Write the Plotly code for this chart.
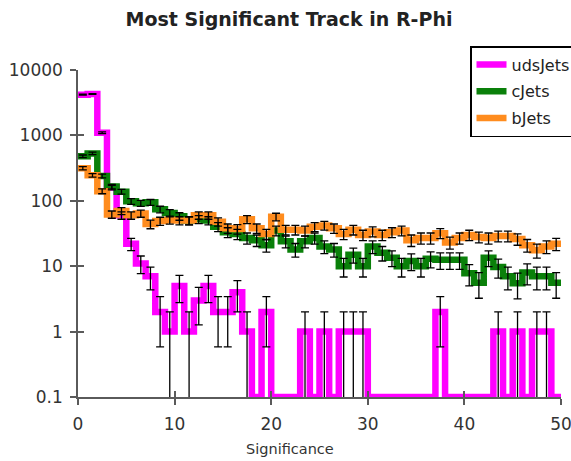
import numpy as np
import plotly.graph_objects as go

# Histogram binning: 50 bins of unit width on [0, 50]
bin_edges = np.arange(0, 51, 1)
bin_centers = bin_edges[:-1] + 0.5

# Entries per bin for each jet flavour
uds_counts = [4200, 4300, 1100, 160, 60, 22, 11, 7, 2, 1,
              5, 1, 3, 5, 2, 2, 4, 1, 0, 2,
              0, 0, 0, 1, 0, 1, 0, 1, 1, 1,
              0, 0, 0, 0, 0, 0, 0, 2, 0, 0,
              0, 0, 0, 1, 0, 1, 0, 1, 1, 0]
c_counts = [480, 530, 240, 165, 138, 98, 92, 95, 74, 65,
            58, 50, 52, 50, 40, 33, 31, 27, 25, 21,
            35, 24, 18, 24, 27, 20, 18, 10, 15, 10,
            20, 16, 13.5, 10, 12, 10, 13, 12.5, 12.5, 12.5,
            7.8, 5.6, 13.5, 9.7, 7, 5.5, 8, 7, 7, 5.6]
b_counts = [315, 245, 140, 62, 70, 60, 64, 44, 49, 51,
            50, 50, 60, 60, 48, 38, 37, 52, 38, 31,
            57, 36, 36, 35, 40, 42, 38, 31, 36, 30,
            34, 30, 33, 35, 25, 27, 27, 32, 23, 27,
            30, 28, 27, 29, 29, 26, 21, 17.5, 20, 22]

series_names = ["udsJets", "cJets", "bJets"]
series_counts = [uds_counts, c_counts, b_counts]
series_colors = ["#FF00FF", "#0A800A", "#FF8C1E"]

y_ticks = [0.1, 1, 10, 100, 1000, 10000]
y_ticktext = ["0.1", "1", "10", "100", "1000", "10000"]
x_ticks = [0, 10, 20, 30, 40, 50]

Y_FLOOR = 0.1  # empty bins sit on the bottom of the log axis
FONT = "DejaVu Sans"
AXIS_COLOR = "#5a5a5a"

fig = go.Figure()

# Step outlines of the histograms
for name, counts, color in zip(series_names, series_counts, series_colors):
    c = np.asarray(counts, dtype=float)
    level = np.where(c > 0, c, Y_FLOOR)
    step_y = np.append(level, level[-1])
    fig.add_trace(go.Scatter(
        x=bin_edges, y=step_y, mode="lines", name=name, legendgroup=name,
        line=dict(shape="hv", color=color, width=6.5),
        hoverinfo="skip",
    ))

# Poisson error bars at the bin centres
for name, counts, color in zip(series_names, series_counts, series_colors):
    c = np.asarray(counts, dtype=float)
    filled = c > 0
    fig.add_trace(go.Scatter(
        x=bin_centers[filled], y=c[filled], mode="markers",
        marker=dict(size=1, color="rgba(0,0,0,0)"),
        error_y=dict(type="data", array=np.sqrt(c[filled]),
                     color="black", thickness=1.3, width=4),
        showlegend=False, hoverinfo="skip",
    ))

# Empty trace that carries the inner tick marks
fig.add_trace(go.Scatter(x=[], y=[], xaxis="x2", yaxis="y2",
                         showlegend=False, hoverinfo="skip"))

tick_font = dict(family=FONT, size=17, color="#333333")

fig.update_layout(
    width=571, height=461,
    margin=dict(l=78, r=10, t=70, b=64, autoexpand=False),
    paper_bgcolor="white", plot_bgcolor="white",
    title=dict(text="<b>Most Significant Track in R-Phi</b>",
               x=(289 - 78) / 483, xref="paper", xanchor="center",
               y=1 - 19 / 461, yref="container", yanchor="middle",
               font=dict(family=FONT, size=19, color="#222222")),
    xaxis=dict(range=[0, 50], tickvals=x_ticks, ticks="outside", ticklen=6,
               tickwidth=1.5, tickcolor=AXIS_COLOR, showline=True,
               linecolor=AXIS_COLOR, linewidth=1.5, showgrid=False,
               zeroline=False, tickfont=tick_font, ticklabeloverflow="allow",
               ticklabelstandoff=5),
    yaxis=dict(type="log", range=[-1, 4], tickvals=y_ticks,
               ticktext=y_ticktext, ticks="outside", ticklen=6,
               tickwidth=1.5, tickcolor=AXIS_COLOR, showline=True,
               linecolor=AXIS_COLOR, linewidth=1.5, showgrid=False,
               zeroline=False, tickfont=tick_font, ticklabelstandoff=4,
               ticklabeloverflow="allow"),
    xaxis2=dict(overlaying="x", anchor="y2", range=[0, 50], tickvals=x_ticks,
                ticks="inside", ticklen=6, tickwidth=1.5,
                tickcolor=AXIS_COLOR, showticklabels=False, showline=False,
                showgrid=False, zeroline=False),
    yaxis2=dict(overlaying="y", anchor="x2", type="log", range=[-1, 4],
                tickvals=y_ticks, ticks="inside", ticklen=6, tickwidth=1.5,
                tickcolor=AXIS_COLOR, showticklabels=False, showline=False,
                showgrid=False, zeroline=False),
    legend=dict(x=(470 - 78) / 483, y=(397 - 46) / 327,
                xanchor="left", yanchor="top", traceorder="grouped",
                tracegroupgap=3,
                bgcolor="white", bordercolor="black", borderwidth=1.5,
                font=dict(family=FONT, size=16, color="#222222")),
    annotations=[dict(text="Significance", xref="paper", yref="paper",
                      x=(290 - 78) / 483, y=(397 - 449) / 327,
                      xanchor="center", yanchor="middle", showarrow=False,
                      font=dict(family=FONT, size=14.5, color="#333333"))],
    showlegend=True,
)

fig.write_html("out.html")
